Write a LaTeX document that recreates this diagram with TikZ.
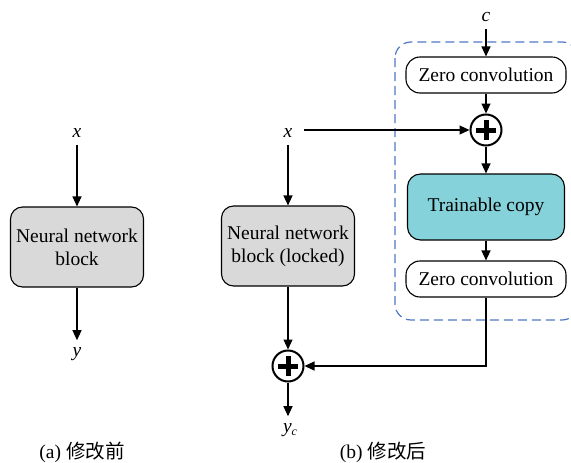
\documentclass[tikz,border=0pt]{standalone}
\usepackage{fontspec}
\setmainfont{Liberation Serif}
\newfontfamily\cjk{Noto Sans CJK SC}
\usetikzlibrary{arrows.meta}
\definecolor{boxgray}{RGB}{217,217,217}
\definecolor{teal}{RGB}{134,210,218}
\definecolor{dashblue}{RGB}{80,120,200}
\tikzset{
  every node/.style={font=\fontsize{19.5}{23}\selectfont},
  conn/.style={line width=1.1pt,-{Triangle[length=10pt,width=9pt]}},
  nnbox/.style={draw,line width=1.1pt,fill=boxgray,rounded corners=12pt,minimum width=133pt,minimum height=80pt,align=center,inner sep=0pt},
  zcbox/.style={draw,line width=1.1pt,fill=white,rounded corners=14pt,minimum width=160pt,minimum height=36pt,inner sep=0pt},
  trbox/.style={draw,line width=1.1pt,fill=teal,rounded corners=13pt,minimum width=157pt,minimum height=66pt,inner sep=0pt},
  plusnode/.style={draw,circle,line width=2pt,minimum size=31pt,inner sep=0pt},
  lab/.style={inner sep=7pt},
}
\newcommand{\plusmark}[1]{\draw[line width=5pt] ([xshift=-10pt]#1.center) -- ([xshift=10pt]#1.center) ([yshift=-10pt]#1.center) -- ([yshift=10pt]#1.center);}
\begin{document}
\begin{tikzpicture}[x=1pt,y=-1pt]
\useasboundingbox (0,0) rectangle (571,463);
% dashed region
\draw[dashblue,line width=1.2pt,dash pattern=on 9pt off 5pt,rounded corners=16pt] (395,42) rectangle (578,320);
% (a)
\node[lab] (xa) at (77,133) {\textit{x}};
\node[nnbox] (nna) at (77,247) {Neural network\\block};
\node[lab] (ya) at (77,354) {\textit{y}};
\draw[conn] (xa.south) -- (nna.north);
\draw[conn] (nna.south) -- (ya.north);
% (b)
\node[lab,inner xsep=11pt] (xb) at (288,133) {\textit{x}};
\node[nnbox] (nnb) at (288,246) {Neural network\\block (locked)};
\node[plusnode] (p2) at (288,366) {};
\node[lab] (yc) at (290,430) {\textit{y}\raisebox{-0.35ex}{\fontsize{12}{12}\selectfont\textit{c}}};
\node[lab] (c) at (486,17) {\textit{c}};
\node[zcbox] (zc1) at (486,75) {Zero convolution};
\node[plusnode] (p1) at (486,130) {};
\node[trbox] (tr) at (486,207) {Trainable copy};
\node[zcbox] (zc2) at (486,279) {Zero convolution};
\plusmark{p1}
\plusmark{p2}
\draw[conn] (xb.south) -- (nnb.north);
\draw[conn] (nnb.south) -- (p2.north);
\draw[conn] (p2.south) -- (p2.south |- yc.north);
\draw[conn] (xb.east |- p1.west) -- (p1.west);
\draw[conn] (c.south) -- (zc1.north);
\draw[conn] (zc1.south) -- (p1.north);
\draw[conn] (p1.south) -- (tr.north);
\draw[conn] (tr.south) -- (zc2.north);
\draw[conn] (zc2.south) |- (p2.east);
% captions
\node (capa) at (82,452) {(a) {\cjk 修改前}};
\node (capb) at (383,452) {(b) {\cjk 修改后}};
\end{tikzpicture}
\end{document}
